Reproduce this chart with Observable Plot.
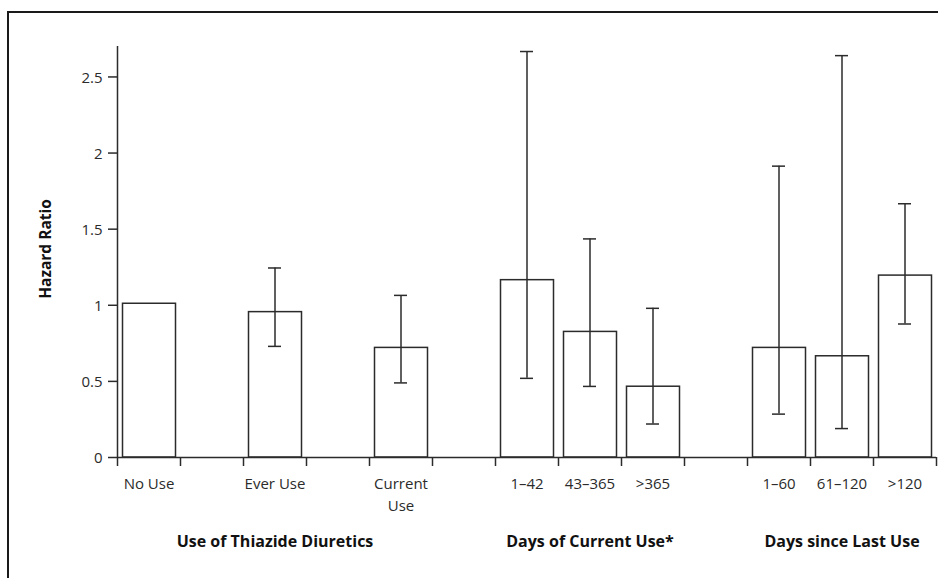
<!DOCTYPE html>
<html>
<head>
<meta charset="utf-8">
<script src="https://cdn.jsdelivr.net/npm/d3@7"></script>
<script src="https://cdn.jsdelivr.net/npm/@observablehq/plot@0.6"></script>
<style>
  html, body { margin: 0; padding: 0; background: #fff; overflow: hidden; }
  #wrap { position: relative; width: 938px; height: 578px; }
  #border { position: absolute; left: 7px; top: 11px; width: 2000px; height: 2000px;
            border-top: 2px solid #1a1a1a; border-left: 2px solid #1a1a1a; }
  #chart { position: absolute; left: 0; top: 0; }
</style>
</head>
<body>
<div id="wrap"><div id="border"></div><div id="chart"></div></div>
<script>
// Slots along the x axis (empty strings are spacer slots between groups)
const categories = ["No Use", "", "Ever Use", "", "Current\nUse", "", "1–42", "43–365", ">365", "", "1–60", "61–120", ">120"];
const hazardRatio = [1.01, null, 0.955, null, 0.72, null, 1.165, 0.825, 0.465, null, 0.72, 0.665, 1.195];
const ciLower = [null, null, 0.73, null, 0.49, null, 0.52, 0.467, 0.22, null, 0.285, 0.19, 0.877];
const ciUpper = [null, null, 1.245, null, 1.065, null, 2.667, 1.436, 0.98, null, 1.914, 2.64, 1.667];
const groupNames = ["Use of Thiazide Diuretics", "Days of Current Use*", "Days since Last Use"];
const groupOf = [0, 0, 0, 0, 0, null, 1, 1, 1, null, 2, 2, 2];
const yTicks = [0, 0.5, 1, 1.5, 2, 2.5];
const yLabel = "Hazard Ratio";

const rows = categories.map((c, i) => ({
  slot: i, label: c, hr: hazardRatio[i], lo: ciLower[i], hi: ciUpper[i]
}));
const bars = rows.filter(d => d.hr != null);
const errs = rows.filter(d => d.lo != null && d.hi != null);
const labels = rows.filter(d => d.label !== "");
const groups = groupNames.map((name, g) => {
  const idx = groupOf.map((v, i) => v === g ? i : null).filter(v => v != null);
  return {name, x: (d3.min(idx) + d3.max(idx) + 1) / 2};
});

const ink = "#2b2b2b";

const chart = Plot.plot({
  width: 938,
  height: 578,
  marginLeft: 117,
  marginRight: 2,
  marginTop: 46,
  marginBottom: 121,
  style: {fontFamily: "'Open Sans', sans-serif", fontSize: "15px", color: ink, background: "transparent"},
  x: {type: "linear", domain: [0, categories.length], axis: null},
  y: {domain: [0, 2.7], axis: null},
  marks: [
    Plot.rectY(bars, {
      x1: d => d.slot, x2: d => d.slot + 1, y1: 0, y2: "hr",
      insetLeft: 5.5, insetRight: 4.5,
      fill: "white", stroke: ink, strokeWidth: 1.5
    }),
    Plot.ruleX(errs, {x: d => d.slot + 0.5, y1: "lo", y2: "hi", stroke: ink, strokeWidth: 1.5}),
    Plot.ruleY(errs, {x1: d => d.slot + 0.5, x2: d => d.slot + 0.5, y: "hi", insetLeft: -6.5, insetRight: -6.5, stroke: ink, strokeWidth: 1.5}),
    Plot.ruleY(errs, {x1: d => d.slot + 0.5, x2: d => d.slot + 0.5, y: "lo", insetLeft: -6.5, insetRight: -6.5, stroke: ink, strokeWidth: 1.5}),
    Plot.ruleX([0], {stroke: ink, strokeWidth: 1.5}),
    Plot.ruleY([0], {stroke: ink, strokeWidth: 1.5}),
    Plot.axisY(yTicks, {
      tickSize: 9, stroke: ink, strokeWidth: 1.5, tickFormat: () => "", label: null
    }),
    Plot.text(yTicks, {
      y: d => d, frameAnchor: "left", textAnchor: "end", dx: -15, dy: 1,
      text: d => String(d), fontSize: 15, fill: ink
    }),
    Plot.axisX(d3.range(categories.length + 1), {
      tickSize: 9, stroke: ink, strokeWidth: 1.5, tickFormat: () => "", label: null
    }),
    Plot.text(labels, {
      x: d => d.slot + 0.5, frameAnchor: "bottom", text: "label",
      lineAnchor: "top", dy: 16, lineHeight: 1.47, fontSize: 15, fill: ink
    }),
    Plot.text(groups, {
      x: "x", frameAnchor: "bottom", text: "name",
      lineAnchor: "bottom", dy: 89, fontSize: 16, fontWeight: "bold", fill: "#111"
    }),
    Plot.text([yLabel], {
      frameAnchor: "left", textAnchor: "middle", dx: -71, dy: -3, rotate: -90,
      fontSize: 15.5, fontWeight: "bold", fill: "#111"
    })
  ]
});
document.getElementById("chart").appendChild(chart);
</script>
</body>
</html>
